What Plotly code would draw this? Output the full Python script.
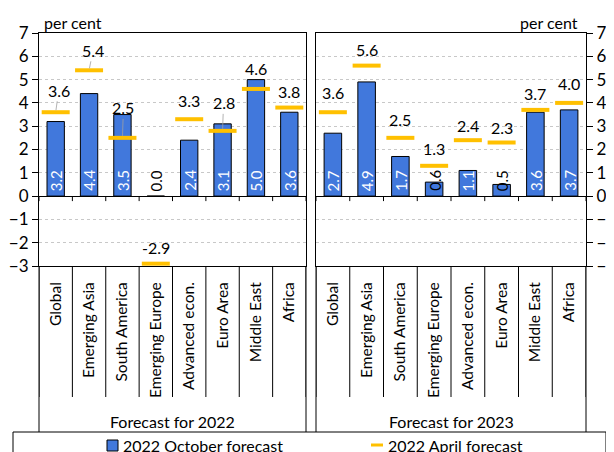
import plotly.graph_objects as go
from plotly.subplots import make_subplots

categories = ["Global", "Emerging Asia", "South America", "Emerging Europe",
              "Advanced econ.", "Euro Area", "Middle East", "Africa"]
oct_2022 = [3.2, 4.4, 3.5, 0.0, 2.4, 3.1, 5.0, 3.6]
apr_2022 = [3.6, 5.4, 2.5, -2.9, 3.3, 2.8, 4.6, 3.8]
oct_2023 = [2.7, 4.9, 1.7, 0.6, 1.1, 0.5, 3.6, 3.7]
apr_2023 = [3.6, 5.6, 2.5, 1.3, 2.4, 2.3, 3.7, 4.0]
panel_titles = ["Forecast for 2022", "Forecast for 2023"]
series_names = ["2022 October forecast", "2022 April forecast"]
y_ticks = [-3, -2, -1, 0, 1, 2, 3, 4, 5, 6, 7]

BLUE = "#4178DC"
ORANGE = "#FFC000"
FONT = "Lato"
# the page body has an 8px margin, so the figure starts at (8, 8) of the window
PAD = 8
W, H = 614 - PAD, 452 - PAD

# label placement of the april values: (dx px, dy px, leader line)
label_pos = [
    [(3, -22, True), (4, -20, True), (1, -30, True), (0, -16, False),
     (0, -19, False), (1, -28, True), (0, -20, False), (0, -16, False)],
    [(0, -20, False), (0, -16, False), (0, -18, False), (0, -17, False),
     (0, -15, False), (0, -15, False), (0, -16, False), (0, -19, False)],
]


def py(p):
    # window pixel from top -> paper coordinate
    return 1 - (p - PAD) / H


def px(p):
    return (p - PAD) / W


fig = make_subplots(rows=1, cols=2)

panels = [(oct_2022, apr_2022), (oct_2023, apr_2023)]
for i, (bars, april) in enumerate(panels):
    col = i + 1
    fig.add_trace(go.Bar(x=categories, y=bars, name=series_names[0],
                         marker=dict(color=BLUE, line=dict(color="black", width=1)),
                         width=0.52, showlegend=False), row=1, col=col)
    fig.add_trace(go.Scatter(x=categories, y=april, mode="markers",
                             name=series_names[1],
                             marker=dict(symbol="line-ew", size=20,
                                         line=dict(color=ORANGE, width=4)),
                             showlegend=False), row=1, col=col)
    xr = "x" if i == 0 else "x2"
    yr = "y" if i == 0 else "y2"
    # bar value labels at the base
    for c, v in zip(categories, bars):
        fig.add_annotation(x=c, y=0, xref=xr, yref=yr, text=f"{v:.1f}",
                           textangle=-90, showarrow=False, yanchor="bottom",
                           yshift=3, font=dict(family=FONT, size=15,
                                               color="white" if v >= 1 else "black"))
    # april value labels
    for c, v, (dx, dy, lead) in zip(categories, april, label_pos[i]):
        if lead:
            fig.add_annotation(x=c, y=v, xref=xr, yref=yr, text=f"{v:.1f}",
                               showarrow=True, arrowhead=0, arrowwidth=0.8,
                               arrowcolor="#A0A0A0", ax=dx, ay=dy, standoff=2,
                               font=dict(family=FONT, size=16, color="black"))
        else:
            fig.add_annotation(x=c, y=v, xref=xr, yref=yr, text=f"{v:.1f}",
                               showarrow=False, yshift=-dy, yanchor="middle",
                               font=dict(family=FONT, size=16, color="black"))
    # category separators under the plot, and small ticks on the zero line
    for k in range(len(categories) + 1):
        fig.add_shape(type="line", xref=xr, yref="paper", x0=k - 0.5, x1=k - 0.5,
                      y0=py(266), y1=py(397), line=dict(color="black", width=1))
        fig.add_shape(type="line", xref=xr, yref=yr, ysizemode="pixel", yanchor=0,
                      x0=k - 0.5, x1=k - 0.5, y0=0, y1=-5,
                      line=dict(color="black", width=1))
    # panel box continued down to the legend
    for edge in (0, 1):
        fig.add_shape(type="line", xref=xr + " domain", yref="paper",
                      x0=edge, x1=edge, y0=py(266), y1=py(432),
                      line=dict(color="black", width=1))
    fig.add_annotation(xref=xr + " domain", yref="paper", x=0.5, y=py(421),
                       text=panel_titles[i], showarrow=False, yanchor="middle",
                       font=dict(family=FONT, size=16, color="black"))

# legend: frame, keys and texts
fig.add_shape(type="rect", xref="paper", yref="paper", x0=px(13), x1=px(606),
              y0=-0.1, y1=py(432), line=dict(color="black", width=1))
fig.add_shape(type="rect", xref="paper", yref="paper", x0=px(107), x1=px(118),
              y0=py(451), y1=py(440), fillcolor=BLUE,
              line=dict(color="black", width=1))
fig.add_shape(type="line", xref="paper", yref="paper", x0=px(371), x1=px(383),
              y0=py(445), y1=py(445), line=dict(color=ORANGE, width=3))
fig.add_annotation(xref="paper", yref="paper", x=px(121), y=py(445),
                   text=series_names[0], showarrow=False,
                   xanchor="left", yanchor="middle",
                   font=dict(family=FONT, size=16, color="black"))
fig.add_annotation(xref="paper", yref="paper", x=px(386), y=py(445),
                   text=series_names[1], showarrow=False,
                   xanchor="left", yanchor="middle",
                   font=dict(family=FONT, size=16, color="black"))

fig.add_annotation(xref="paper", yref="paper", x=px(42), y=py(23), text="per cent",
                   showarrow=False, xanchor="left", yanchor="middle",
                   font=dict(family=FONT, size=16, color="black"))
fig.add_annotation(xref="paper", yref="paper", x=px(580), y=py(22), text="per cent",
                   showarrow=False, xanchor="right", yanchor="middle",
                   font=dict(family=FONT, size=16, color="black"))

x_domains = [[px(39), px(306)], [px(316), px(586)]]
for i in range(2):
    fig.update_xaxes(domain=x_domains[i], range=[-0.5, 7.5], tickangle=-90,
                     showline=True, mirror=True, linecolor="black", linewidth=1,
                     ticks="", ticklabelstandoff=9, showgrid=False, automargin=False,
                     tickfont=dict(family=FONT, size=15.5, color="black"),
                     row=1, col=i + 1)
    fig.update_yaxes(domain=[py(266), py(33)], range=[-3, 7], tickvals=y_ticks,
                     showline=True, mirror=True, linecolor="black", linewidth=1,
                     ticks="outside", ticklen=6, tickcolor="black", automargin=False,
                     showgrid=True, gridcolor="#C8C8C8", griddash="dot", gridwidth=1,
                     zeroline=True, zerolinecolor="black", zerolinewidth=1,
                     side="left" if i == 0 else "right",
                     tickfont=dict(family=FONT, size=17, color="black"),
                     row=1, col=i + 1)

fig.update_layout(
    width=W, height=H,
    margin=dict(l=0, r=0, t=0, b=0),
    plot_bgcolor="white", paper_bgcolor="white",
    bargap=0.5, showlegend=False,
    font=dict(family=FONT, size=15, color="black"),
)

fig.write_html("out.html")
